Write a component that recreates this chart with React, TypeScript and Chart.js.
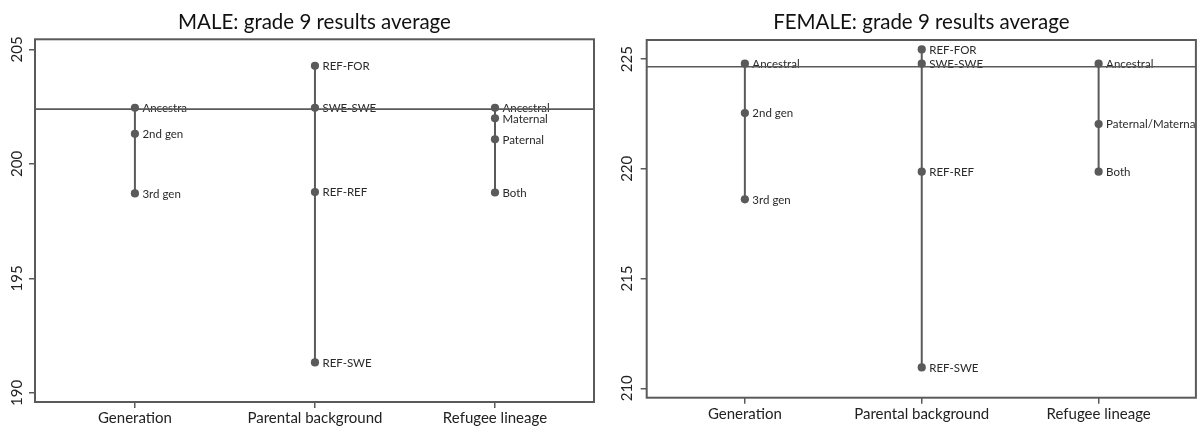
import React, { useEffect, useRef } from 'react';
import { Chart, registerables } from 'chart.js';

Chart.register(...registerables);

// ---------- data ----------
const categories = ['Generation', 'Parental background', 'Refugee lineage'];
const categoryMin = 0.445;
const categoryMax = 3.55;

const maleTitle = 'MALE: grade 9 results average';
const maleGenerationValues = [202.45, 201.31, 198.71];
const maleGenerationLabels = ['Ancestra', '2nd gen', '3rd gen'];
const maleParentalValues = [204.28, 202.45, 198.77, 191.33];
const maleParentalLabels = ['REF-FOR', 'SWE-SWE', 'REF-REF', 'REF-SWE'];
const maleRefugeeValues = [202.45, 201.99, 201.07, 198.75];
const maleRefugeeLabels = ['Ancestral', 'Maternal', 'Paternal', 'Both'];
const maleAverage = 202.39;
const maleTicks = [190, 195, 200, 205];
const maleMin = 189.6;
const maleMax = 205.44;

const femaleTitle = 'FEMALE: grade 9 results average';
const femaleGenerationValues = [224.79, 222.54, 218.61];
const femaleGenerationLabels = ['Ancestral', '2nd gen', '3rd gen'];
const femaleParentalValues = [225.44, 224.79, 219.87, 210.95];
const femaleParentalLabels = ['REF-FOR', 'SWE-SWE', 'REF-REF', 'REF-SWE'];
const femaleRefugeeValues = [224.79, 222.04, 219.87];
const femaleRefugeeLabels = ['Ancestral', 'Paternal/Maternal', 'Both'];
const femaleAverage = 224.65;
const femaleTicks = [210, 215, 220, 225];
const femaleMin = 209.57;
const femaleMax = 225.87;

// ---------- style ----------
const FONT = 'Lato, "Open Sans", sans-serif';
const INK = '#222222';
const GREY = '#5a5a5a';

type Group = { category: string; values: number[]; labels: string[] };
type PanelCfg = {
  title: string;
  groups: Group[];
  average: number;
  ticks: number[];
  min: number;
  max: number;
  yAxisWidth: number;
  yLabelX: number;
  padRight: number;
  titlePadTop: number;
  titlePadBottom: number;
  xAxisHeight: number;
};

function Panel({ cfg }: { cfg: PanelCfg }) {
  const ref = useRef<HTMLCanvasElement | null>(null);

  useEffect(() => {
    if (!ref.current) return;
    const datasets = cfg.groups.map((g) => ({
      label: g.category,
      data: g.values.map((v) => ({ x: categories.indexOf(g.category) + 1, y: v })),
      pointLabels: g.labels,
      borderColor: GREY,
      borderWidth: 2,
      pointRadius: 4.1,
      pointHoverRadius: 4.1,
      pointBackgroundColor: GREY,
      pointBorderWidth: 0,
      showLine: true,
      fill: false,
      tension: 0,
    }));

    const decor = {
      id: 'decor',
      afterDatasetsDraw(chart: any) {
        const { ctx, chartArea } = chart;
        ctx.save();
        ctx.beginPath();
        ctx.rect(chartArea.left, chartArea.top, chartArea.right - chartArea.left, chartArea.bottom - chartArea.top);
        ctx.clip();
        ctx.font = `11.5px ${FONT}`;
        ctx.fillStyle = '#2a2a2a';
        ctx.textAlign = 'left';
        ctx.textBaseline = 'middle';
        chart.data.datasets.forEach((ds: any, i: number) => {
          const meta = chart.getDatasetMeta(i);
          meta.data.forEach((el: any, j: number) => {
            ctx.fillText(ds.pointLabels[j], el.x + 7.5, el.y + 0.5);
          });
        });
        ctx.restore();
        const y = chart.scales.y.getPixelForValue(cfg.average);
        ctx.save();
        ctx.strokeStyle = GREY;
        ctx.lineWidth = 1.6;
        ctx.beginPath();
        ctx.moveTo(chartArea.left, y);
        ctx.lineTo(chartArea.right, y);
        ctx.stroke();
        ctx.restore();
      },
      afterDraw(chart: any) {
        const { ctx, chartArea } = chart;
        ctx.save();
        ctx.strokeStyle = GREY;
        ctx.lineWidth = 2;
        ctx.strokeRect(chartArea.left, chartArea.top, chartArea.right - chartArea.left, chartArea.bottom - chartArea.top);
        const ys = chart.scales.y;
        ctx.font = `15px ${FONT}`;
        ctx.fillStyle = INK;
        ctx.textAlign = 'center';
        ctx.textBaseline = 'middle';
        ys.ticks.forEach((t: any) => {
          const py = ys.getPixelForValue(t.value);
          ctx.save();
          ctx.translate(cfg.yLabelX, py);
          ctx.rotate(-Math.PI / 2);
          ctx.fillText(String(t.value), 0, 0);
          ctx.restore();
        });
        ctx.restore();
      },
    };

    const chart = new Chart(ref.current, {
      type: 'scatter',
      data: { datasets: datasets as any },
      options: {
        responsive: false,
        animation: false,
        devicePixelRatio: 1,
        layout: { padding: { left: 0, right: cfg.padRight, top: 0, bottom: 0 } },
        plugins: {
          legend: { display: false },
          tooltip: { enabled: false },
          title: {
            display: true,
            text: cfg.title,
            fullSize: false,
            color: '#111111',
            font: { family: FONT, size: 20.5, weight: 'normal' },
            padding: { top: cfg.titlePadTop, bottom: cfg.titlePadBottom },
          },
        },
        scales: {
          x: {
            type: 'linear',
            min: categoryMin,
            max: categoryMax,
            afterBuildTicks: (s: any) => {
              s.ticks = categories.map((_, i) => ({ value: i + 1 }));
            },
            afterFit: (s: any) => {
              s.height = cfg.xAxisHeight;
            },
            ticks: {
              color: INK,
              font: { family: FONT, size: 15 },
              padding: 1,
              maxRotation: 0,
              autoSkip: false,
              callback: (v: any) => categories[Math.round(Number(v)) - 1],
            },
            grid: {
              drawOnChartArea: false,
              drawTicks: true,
              tickLength: 6,
              color: GREY,
              lineWidth: 1.5,
            },
            border: { display: false },
          },
          y: {
            type: 'linear',
            min: cfg.min,
            max: cfg.max,
            afterBuildTicks: (s: any) => {
              s.ticks = cfg.ticks.map((v) => ({ value: v }));
            },
            afterFit: (s: any) => {
              s.width = cfg.yAxisWidth;
            },
            ticks: { display: false },
            grid: {
              drawOnChartArea: false,
              drawTicks: true,
              tickLength: 6,
              color: GREY,
              lineWidth: 1.5,
            },
            border: { display: false },
          },
        },
      } as any,
      plugins: [decor],
    });
    return () => chart.destroy();
  }, [cfg]);

  return <canvas ref={ref} width={600} height={426} style={{ display: 'block', width: 600, height: 426 }} />;
}

const maleCfg: PanelCfg = {
  title: maleTitle,
  groups: [
    { category: categories[0], values: maleGenerationValues, labels: maleGenerationLabels },
    { category: categories[1], values: maleParentalValues, labels: maleParentalLabels },
    { category: categories[2], values: maleRefugeeValues, labels: maleRefugeeLabels },
  ],
  average: maleAverage,
  ticks: maleTicks,
  min: maleMin,
  max: maleMax,
  yAxisWidth: 35,
  yLabelX: 17.5,
  padRight: 6,
  titlePadTop: 10,
  titlePadBottom: 4.7,
  xAxisHeight: 24,
};

const femaleCfg: PanelCfg = {
  title: femaleTitle,
  groups: [
    { category: categories[0], values: femaleGenerationValues, labels: femaleGenerationLabels },
    { category: categories[1], values: femaleParentalValues, labels: femaleParentalLabels },
    { category: categories[2], values: femaleRefugeeValues, labels: femaleRefugeeLabels },
  ],
  average: femaleAverage,
  ticks: femaleTicks,
  min: femaleMin,
  max: femaleMax,
  yAxisWidth: 46.7,
  yLabelX: 27.5,
  padRight: 2.7,
  titlePadTop: 10,
  titlePadBottom: 5.4,
  xAxisHeight: 28.3,
};

export default function App() {
  return (
    <div
      style={{
        position: 'absolute',
        left: 0,
        top: 0,
        width: 1200,
        height: 426,
        display: 'flex',
        background: '#ffffff',
        overflow: 'hidden',
      }}
    >
      <Panel cfg={maleCfg} />
      <Panel cfg={femaleCfg} />
    </div>
  );
}
